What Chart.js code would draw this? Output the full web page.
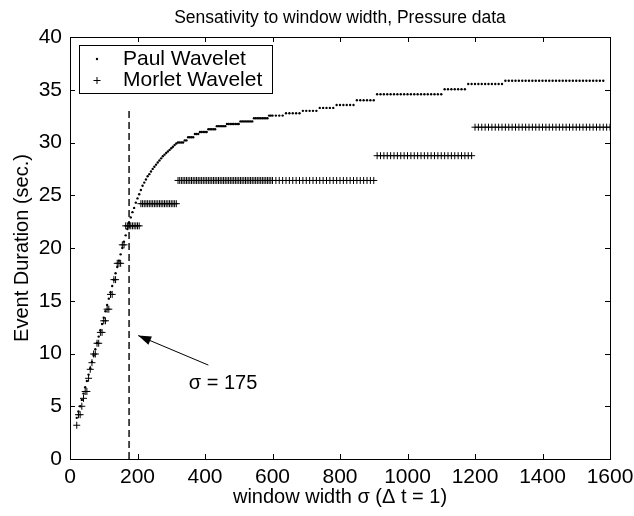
<!DOCTYPE html>
<html>
<head>
<meta charset="utf-8">
<script src="https://cdn.jsdelivr.net/npm/chart.js@4.4.1/dist/chart.umd.min.js"></script>
<style>
  html, body { margin: 0; padding: 0; background: #fff; }
</style>
</head>
<body>
<canvas id="durationChart" width="634" height="516"></canvas>
<script>
// window width sigma (delta t = 1)
const windowWidth = [
  20, 25, 30, 35, 40, 45, 50, 55, 60, 65, 70, 75, 80, 85, 90, 95,
  100, 105, 110, 115, 120, 125, 130, 135, 140, 145, 150, 155, 160, 165, 170, 175, 180, 185, 190, 195,
  200, 205, 210, 215, 220, 225, 230, 235, 240, 245, 250, 255, 260, 265, 270, 275, 280, 285, 290, 295,
  300, 305, 310, 315, 320, 325, 330, 335, 340, 345, 350, 355, 360, 365, 370, 375, 380, 385, 390, 395,
  400, 405, 410, 415, 420, 425, 430, 435, 440, 445, 450, 455, 460, 465, 470, 475, 480, 485, 490, 495,
  500, 505, 510, 515, 520, 525, 530, 535, 540, 545, 550, 555, 560, 565, 570, 575, 580, 585, 590, 595,
  600,
  610, 620, 630, 640, 650, 660, 670, 680, 690, 700, 710, 720, 730, 740, 750, 760, 770, 780, 790, 800,
  810, 820, 830, 840, 850, 860, 870, 880, 890, 900, 910, 920, 930, 940, 950, 960, 970, 980, 990, 1000,
  1010, 1020, 1030, 1040, 1050, 1060, 1070, 1080, 1090, 1100, 1110, 1120, 1130, 1140, 1150, 1160, 1170, 1180, 1190, 1200,
  1210, 1220, 1230, 1240, 1250, 1260, 1270, 1280, 1290, 1300, 1310, 1320, 1330, 1340, 1350, 1360, 1370, 1380, 1390, 1400,
  1410, 1420, 1430, 1440, 1450, 1460, 1470, 1480, 1490, 1500, 1510, 1520, 1530, 1540, 1550, 1560, 1570, 1580, 1590, 1600
];

// event duration (sec.) - Paul wavelet
const paulDuration = [
  3.9, 4.5, 5.0, 5.6, 6.2, 6.8, 7.4, 8.0, 8.6, 9.2, 9.8, 10.4, 11.0, 11.6, 12.2, 12.8,
  13.4, 14.0, 14.6, 15.2, 15.8, 16.4, 17.0, 17.6, 18.2, 18.8, 19.4, 20.0, 20.6, 21.2, 21.8, 22.4, 22.9, 23.4, 23.8, 24.3,
  24.7, 25.1, 25.5, 25.9, 26.2, 26.5, 26.8, 27.0, 27.25, 27.5, 27.7, 27.9, 28.1, 28.3, 28.5, 28.7, 28.85, 29.0, 29.15, 29.3,
  29.45, 29.6, 29.76, 29.9, 30.0, 30.0, 30.0, 30.0, 30.2, 30.2, 30.5, 30.5, 30.5, 30.5, 30.8, 30.8, 30.8, 31.0, 31.0, 31.0,
  31.0, 31.0, 31.25, 31.25, 31.25, 31.25, 31.25, 31.55, 31.55, 31.55, 31.55, 31.55, 31.55, 31.75, 31.75, 31.75, 31.75, 31.75, 31.75, 31.75,
  31.75, 32.0, 32.0, 32.0, 32.0, 32.0, 32.0, 32.0, 32.0, 32.3, 32.3, 32.3, 32.3, 32.3, 32.3, 32.3, 32.3, 32.3, 32.55, 32.55,
  32.55,
  32.55, 32.55, 32.55, 32.77, 32.77, 32.77, 32.77, 32.77, 33.0, 33.0, 33.0, 33.0, 33.0, 33.28, 33.28, 33.28, 33.28, 33.28, 33.55, 33.55,
  33.55, 33.55, 33.55, 33.55, 34.0, 34.0, 34.0, 34.0, 34.0, 34.0, 34.57, 34.57, 34.57, 34.57, 34.57, 34.57, 34.57, 34.57, 34.57, 34.57,
  34.57, 34.57, 34.57, 34.57, 34.57, 34.57, 34.57, 34.57, 34.57, 34.57, 35.05, 35.05, 35.05, 35.05, 35.05, 35.05, 35.05, 35.55, 35.55, 35.55,
  35.55, 35.55, 35.55, 35.55, 35.55, 35.55, 35.55, 35.55, 35.85, 35.85, 35.85, 35.85, 35.85, 35.85, 35.85, 35.85, 35.85, 35.85,
  35.85, 35.85, 35.85, 35.85, 35.85, 35.85, 35.85, 35.85, 35.85, 35.85, 35.85, 35.85, 35.85, 35.85, 35.85, 35.85, 35.85, 35.85, 35.85, 35.85
];

// event duration (sec.) - Morlet wavelet
const morletDuration = [
  3.2, 4.2, 4.2, 5.0, 5.75, 6.4, 6.4, 7.65, 8.5, 9.13, 9.95, 9.95, 10.97, 10.97, 12.0, 12.0,
  13.1, 13.1, 14.2, 14.2, 15.6, 15.6, 17.0, 17.0, 18.55, 18.55, 18.55, 20.3, 20.3, 22.1, 22.1, 22.1, 22.1, 22.1, 22.1, 22.1,
  22.1, 22.1, 24.2, 24.2, 24.2, 24.2, 24.2, 24.2, 24.2, 24.2, 24.2, 24.2, 24.2, 24.2, 24.2, 24.2, 24.2, 24.2, 24.2, 24.2,
  24.2, 24.2, 24.2, 24.2, 26.4, 26.4, 26.4, 26.4, 26.4, 26.4, 26.4, 26.4, 26.4, 26.4, 26.4, 26.4, 26.4, 26.4, 26.4, 26.4,
  26.4, 26.4, 26.4, 26.4, 26.4, 26.4, 26.4, 26.4, 26.4, 26.4, 26.4, 26.4, 26.4, 26.4, 26.4, 26.4, 26.4, 26.4, 26.4, 26.4,
  26.4, 26.4, 26.4, 26.4, 26.4, 26.4, 26.4, 26.4, 26.4, 26.4, 26.4, 26.4, 26.4, 26.4, 26.4, 26.4, 26.4, 26.4, 26.4, 26.4,
  26.4,
  26.4, 26.4, 26.4, 26.4, 26.4, 26.4, 26.4, 26.4, 26.4, 26.4, 26.4, 26.4, 26.4, 26.4, 26.4, 26.4, 26.4, 26.4, 26.4, 26.4,
  26.4, 26.4, 26.4, 26.4, 26.4, 26.4, 26.4, 26.4, 26.4, 26.4, 28.75, 28.75, 28.75, 28.75, 28.75, 28.75, 28.75, 28.75, 28.75, 28.75,
  28.75, 28.75, 28.75, 28.75, 28.75, 28.75, 28.75, 28.75, 28.75, 28.75, 28.75, 28.75, 28.75, 28.75, 28.75, 28.75, 28.75, 28.75, 28.75, 31.45,
  31.45, 31.45, 31.45, 31.45, 31.45, 31.45, 31.45, 31.45, 31.45, 31.45, 31.45, 31.45, 31.45, 31.45, 31.45, 31.45, 31.45, 31.45, 31.45, 31.45,
  31.45, 31.45, 31.45, 31.45, 31.45, 31.45, 31.45, 31.45, 31.45, 31.45, 31.45, 31.45, 31.45, 31.45, 31.45, 31.45, 31.45, 31.45, 31.45, 31.45
];

// dashed marker at sigma = 175
const sigmaMark = 175;
const sigmaLine = [0, 33.3];

const xTicks = [0, 200, 400, 600, 800, 1000, 1200, 1400, 1600];
const yTicks = [0, 5, 10, 15, 20, 25, 30, 35, 40];

const FONT = "'Liberation Sans', Arial, Helvetica, sans-serif";

const paulPoints = windowWidth.map((x, i) => ({ x: x, y: paulDuration[i] }));
const morletPoints = windowWidth.map((x, i) => ({ x: x, y: morletDuration[i] }));

// MATLAB-ish box, inward ticks, titles, legend and annotation
const matlabFrame = {
    id: 'matlabFrame',
    afterDraw(chart) {
        const ctx = chart.ctx;
        const area = chart.chartArea;
        const xs = chart.scales.x;
        const ys = chart.scales.y;
        ctx.save();
        ctx.strokeStyle = '#000';
        ctx.fillStyle = '#000';
        ctx.lineWidth = 1;

        // box
        ctx.strokeRect(Math.round(area.left) + 0.5, Math.round(area.top) + 0.5,
            Math.round(area.right - area.left), Math.round(area.bottom - area.top));

        // ticks pointing inward on all four sides
        const tl = 5;
        ctx.beginPath();
        xTicks.forEach(v => {
            const px = Math.round(xs.getPixelForValue(v)) + 0.5;
            ctx.moveTo(px, area.bottom); ctx.lineTo(px, area.bottom - tl);
            ctx.moveTo(px, area.top); ctx.lineTo(px, area.top + tl);
        });
        yTicks.forEach(v => {
            const py = Math.round(ys.getPixelForValue(v)) + 0.5;
            ctx.moveTo(area.left, py); ctx.lineTo(area.left + tl, py);
            ctx.moveTo(area.right, py); ctx.lineTo(area.right - tl, py);
        });
        ctx.stroke();

        // title and axis labels
        const cx = (area.left + area.right) / 2;
        ctx.textAlign = 'center';
        ctx.textBaseline = 'middle';
        ctx.font = '17.5px ' + FONT;
        ctx.fillText('Sensativity to window width, Pressure data', cx, 18);
        ctx.font = '20px ' + FONT;
        ctx.fillText('window width \u03c3 (\u0394 t = 1)', cx, 497);
        ctx.save();
        ctx.translate(22, (area.top + area.bottom) / 2);
        ctx.rotate(-Math.PI / 2);
        ctx.fillText('Event Duration (sec.)', 0, 0);
        ctx.restore();

        // legend
        ctx.fillStyle = '#fff';
        ctx.fillRect(79.5, 45.5, 193, 48);
        ctx.strokeRect(79.5, 45.5, 193, 48);
        ctx.fillStyle = '#000';
        ctx.textAlign = 'left';
        ctx.font = '21px ' + FONT;
        ctx.fillText('Paul Wavelet', 123, 59);
        ctx.fillText('Morlet Wavelet', 123, 80);
        ctx.beginPath();
        ctx.arc(97, 59, 1.2, 0, Math.PI * 2);
        ctx.fill();
        ctx.beginPath();
        ctx.moveTo(93.5, 80.5); ctx.lineTo(100.5, 80.5);
        ctx.moveTo(97, 77); ctx.lineTo(97, 84);
        ctx.stroke();

        // arrow pointing at the sigma = 175 line
        const tipX = xs.getPixelForValue(202), tipY = ys.getPixelForValue(11.7);
        const tailX = xs.getPixelForValue(410), tailY = ys.getPixelForValue(8.9);
        const ang = Math.atan2(tipY - tailY, tipX - tailX);
        ctx.beginPath();
        ctx.moveTo(tailX, tailY);
        ctx.lineTo(tipX, tipY);
        ctx.stroke();
        const hl = 13, hw = 4.5;
        ctx.beginPath();
        ctx.moveTo(tipX, tipY);
        ctx.lineTo(tipX - hl * Math.cos(ang) + hw * Math.sin(ang), tipY - hl * Math.sin(ang) - hw * Math.cos(ang));
        ctx.lineTo(tipX - hl * Math.cos(ang) - hw * Math.sin(ang), tipY - hl * Math.sin(ang) + hw * Math.cos(ang));
        ctx.closePath();
        ctx.fill();

        ctx.textAlign = 'left';
        ctx.font = '20px ' + FONT;
        ctx.fillText('\u03c3 = 175', xs.getPixelForValue(352), ys.getPixelForValue(7.2));
        ctx.restore();
    }
};

const chart = new Chart(document.getElementById('durationChart').getContext('2d'), {
    type: 'scatter',
    data: {
        datasets: [{
            label: 'Paul Wavelet',
            data: paulPoints,
            pointStyle: 'circle',
            pointRadius: 1.2,
            pointBorderWidth: 0,
            backgroundColor: '#000',
            borderColor: '#000'
        }, {
            label: 'Morlet Wavelet',
            data: morletPoints,
            pointStyle: 'cross',
            pointRadius: 3.5,
            pointBorderWidth: 1,
            borderColor: '#000',
            backgroundColor: '#000'
        }, {
            label: 'sigma',
            data: sigmaLine.map(v => ({ x: sigmaMark, y: v })),
            showLine: true,
            borderColor: '#000',
            borderWidth: 1.4,
            borderDash: [7, 4],
            pointRadius: 0
        }]
    },
    options: {
        responsive: false,
        animation: false,
        events: [],
        layout: {
            padding: { top: 37, right: 24, left: 0, bottom: 0 }
        },
        plugins: {
            legend: { display: false },
            tooltip: { enabled: false }
        },
        scales: {
            x: {
                type: 'linear',
                min: 0,
                max: 1600,
                afterBuildTicks: function (scale) {
                    scale.ticks = xTicks.map(v => ({ value: v }));
                },
                afterFit: function (scale) {
                    scale.height = 57;
                    scale.paddingLeft = 0;
                    scale.paddingRight = 0;
                },
                grid: { display: false, drawTicks: false },
                border: { display: false },
                ticks: {
                    color: '#000',
                    padding: 6,
                    maxRotation: 0,
                    autoSkip: false,
                    font: { family: FONT, size: 21 },
                    callback: function (value) {
                        return String(value);
                    }
                }
            },
            y: {
                type: 'linear',
                min: 0,
                max: 40,
                afterBuildTicks: function (scale) {
                    scale.ticks = yTicks.map(v => ({ value: v }));
                },
                afterFit: function (scale) {
                    scale.width = 70;
                    scale.paddingTop = 0;
                    scale.paddingBottom = 0;
                },
                grid: { display: false, drawTicks: false },
                border: { display: false },
                ticks: {
                    color: '#000',
                    padding: 8,
                    autoSkip: false,
                    font: { family: FONT, size: 21 },
                    callback: function (value) {
                        return String(value);
                    }
                }
            }
        }
    },
    plugins: [matlabFrame]
});
</script>
</body>
</html>
